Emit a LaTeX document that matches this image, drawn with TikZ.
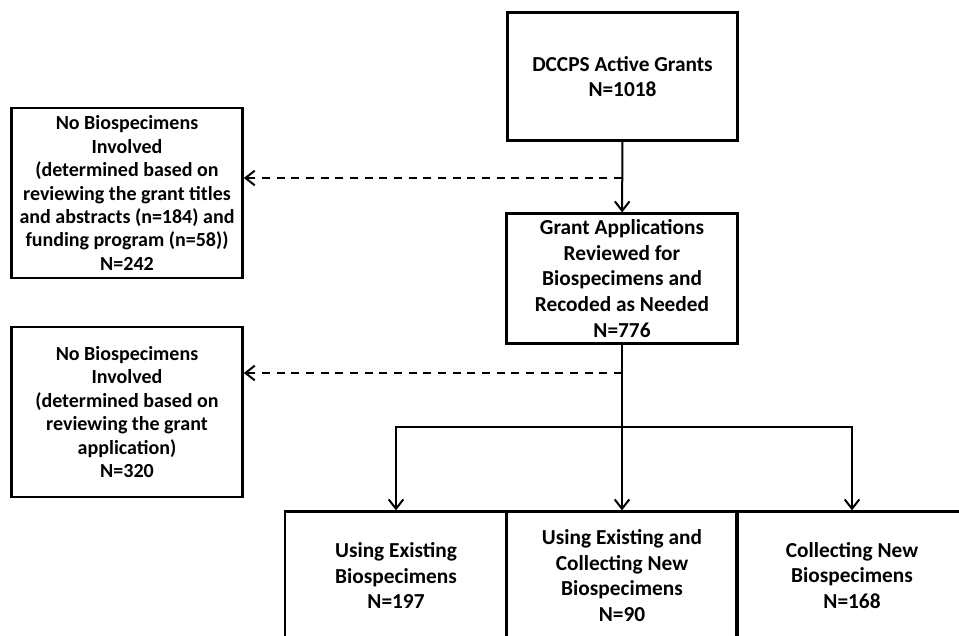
\documentclass[tikz,border=0pt]{standalone}
\usepackage{fontspec}
\setmainfont{Carlito}
\usetikzlibrary{arrows.meta,positioning}

\begin{document}
\begin{tikzpicture}[
    x=0.75pt, y=-0.75pt,
    every node/.style={font=\fontsize{16}{19.2}\selectfont\bfseries, align=center},
    block/.style={rectangle, draw=black, line width=2.2pt, inner sep=0pt, minimum width=173pt, minimum height=95.5pt},
    sidebox/.style={block, minimum height=127.5pt, font=\fontsize{15}{17.6}\selectfont\bfseries},
    arrow/.style={-{Straight Barb[length=7pt,width=11pt]}, line width=1.5pt, draw=black},
    dasharrow/.style={arrow, dash pattern=on 6pt off 5pt}
]
    \clip (0,0) rectangle (959,635);

    \node [block] (grants) at (622.5,76.5) {DCCPS Active Grants\\N=1018};
    \node [block, minimum height=97pt] (review) at (622,278.5) {Grant Applications\\Reviewed for\\Biospecimens and\\Recoded as Needed\\N=776};
    \node [sidebox] (nobio1) at (127,193) {No Biospecimens\\Involved\\(determined based on\\reviewing the grant titles\\and abstracts (n=184) and\\funding program (n=58))\\N=242};
    \node [sidebox] (nobio2) at (127,412) {No Biospecimens\\Involved\\(determined based on\\reviewing the grant\\application)\\N=320};

    % bottom row, clipped by the page edge
    \node [block, minimum width=166.5pt] (useold) at (396,575.5) {Using Existing\\Biospecimens\\N=197};
    \node [block] (useboth) at (622,575.5) {Using Existing and\\Collecting New\\Biospecimens\\N=90};
    \node [block] (usenew) at (852,575.5) {Collecting New\\Biospecimens\\N=168};

    \coordinate (j1) at (622,178);
    \coordinate (j2) at (622,373);
    \coordinate (split) at (622,427);

    \draw [arrow] (grants) -- (review);
    \draw [dasharrow] (j1) -- (j1 -| nobio1.east);
    \draw [line width=1.5pt] (review) -- (split);
    \draw [dasharrow] (j2) -- (j2 -| nobio2.east);
    \draw [arrow] (split) -| (useold.north);
    \draw [arrow] (split) -- (useboth.north);
    \draw [arrow] (split) -| (usenew.north);
\end{tikzpicture}
\end{document}
